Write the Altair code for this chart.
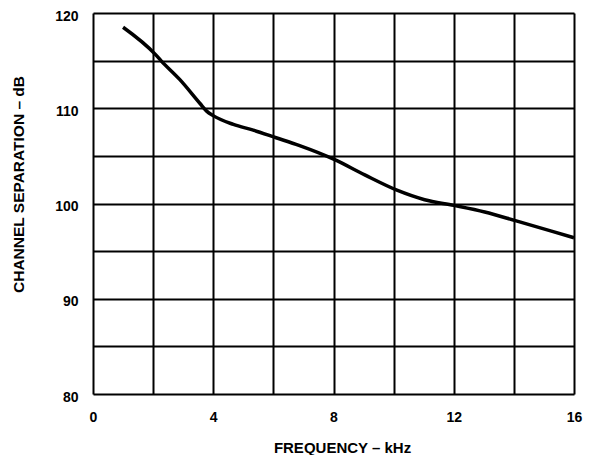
import altair as alt
import pandas as pd

freq_khz = [1.0, 2.09, 2.26, 2.89, 3.56, 3.78, 4.01, 4.67, 5.33, 6.09, 6.85, 8.04,
            9.04, 10.11, 11.03, 12.0, 13.03, 14.05, 15.25, 16.0]
separation_db = [118.5, 115.6, 115.0, 113.0, 110.5, 109.7, 109.2, 108.3, 107.7, 106.9,
                 106.1, 104.6, 103.0, 101.4, 100.4, 99.8, 99.1, 98.2, 97.1, 96.4]

x_grid = [0, 2, 4, 6, 8, 10, 12, 14, 16]
y_grid = [80, 85, 90, 95, 100, 105, 110, 115, 120]

df = pd.DataFrame({"f": freq_khz, "db": separation_db})

FONT = "Liberation Sans"

chart = alt.Chart(df).mark_line(
    color="black", strokeWidth=3.5, interpolate="monotone"
).encode(
    x=alt.X("f:Q", scale=alt.Scale(domain=[0, 16], nice=False, zero=False),
            axis=alt.Axis(values=x_grid, title="FREQUENCY – kHz",
                          labelExpr="datum.value % 4 == 0 ? datum.label : ''",
                          grid=True, gridColor="black", gridWidth=2, gridOpacity=1,
                          domain=False, ticks=False, tickSize=0, labelPadding=16,
                          labelFont=FONT, labelFontSize=14, labelFontWeight="bold",
                          labelColor="black", labelFlush=False, labelOverlap=False,
                          titleFont=FONT, titleFontSize=15, titleFontWeight="bold",
                          titleColor="black", titleX=249, titleY=53,
                          titleBaseline="middle", titleAlign="center")),
    y=alt.Y("db:Q", scale=alt.Scale(domain=[80, 120], nice=False, zero=False),
            axis=alt.Axis(values=y_grid, title="CHANNEL SEPARATION – dB",
                          labelExpr="datum.value % 10 == 0 ? datum.label : ''",
                          grid=True, gridColor="black", gridWidth=2, gridOpacity=1,
                          domain=False, ticks=False, tickSize=0, labelPadding=15,
                          labelOffset=3,
                          labelFont=FONT, labelFontSize=14, labelFontWeight="bold",
                          labelColor="black", labelFlush=False, labelOverlap=False,
                          titleFont=FONT, titleFontSize=15.5, titleFontWeight="bold",
                          titleColor="black", titleX=-75, titleY=171,
                          titleAngle=270, titleBaseline="middle", titleAlign="center")),
).properties(
    width=481, height=381,
    autosize=alt.AutoSizeParams(type="none"),
    padding={"left": 85, "top": 5, "right": 10, "bottom": 61},
).configure_view(
    stroke="black", strokeWidth=2.5
).configure(background="white")

chart.save("out.html", embed_options={"renderer": "svg", "actions": False})
